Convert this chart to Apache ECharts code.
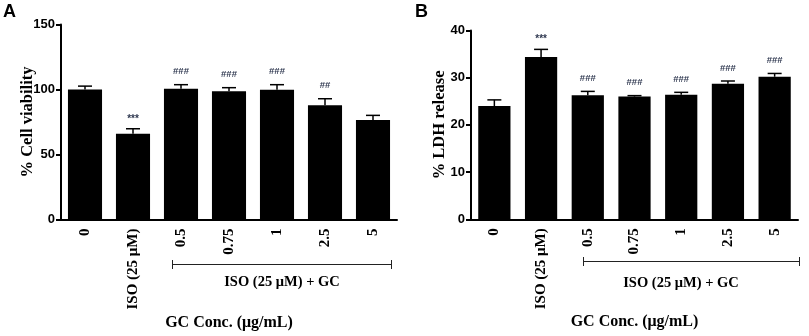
<!DOCTYPE html>
<html><head><meta charset="utf-8">
<script src="https://cdn.jsdelivr.net/npm/echarts@6/dist/echarts.min.js"></script>
<style>html,body{margin:0;padding:0;background:#fff}#c{width:809px;height:336px}</style>
</head><body><div id="c"></div>
<script>
const categories = ['0', 'ISO (25 μM)', '0.5', '0.75', '1', '2.5', '5'];
const viability = [100, 66, 100.6, 98.6, 99.8, 87.8, 76.5];
const viabilityErr = [2.6, 3.8, 3.1, 2.8, 3.9, 5.1, 3.6];
const viabilitySig = ['', '***', '###', '###', '###', '##', ''];
const ldh = [24.0, 34.4, 26.3, 26.0, 26.4, 28.7, 30.2];
const ldhErr = [1.3, 1.6, 0.8, 0.2, 0.5, 0.6, 0.7];
const ldhSig = ['', '***', '###', '###', '###', '###', '###'];
const yTicksA = {min: 0, max: 150, interval: 50};
const yTicksB = {min: 0, max: 40, interval: 10};

const serif = 'Liberation Serif';
const sans = 'Liberation Sans';

function xAxis(gi) {
  return {
    type: 'category', gridIndex: gi, data: categories, boundaryGap: true,
    axisLine: {lineStyle: {color: '#000', width: 2}},
    axisTick: {alignWithLabel: true, length: 5, lineStyle: {color: '#000', width: 2}},
    axisLabel: {rotate: 90, margin: 9, fontFamily: serif, fontWeight: 'bold', fontSize: 15, color: '#000'},
    name: 'GC Conc. (μg/mL)', nameLocation: 'middle', nameGap: 95, nameMoveOverlap: false,
    nameTextStyle: {fontFamily: serif, fontWeight: 'bold', fontSize: 16, color: '#000'}
  };
}
function yAxis(gi, t, name, gap) {
  return {
    type: 'value', gridIndex: gi, min: t.min, max: t.max, interval: t.interval,
    splitLine: {show: false},
    axisLine: {show: true, lineStyle: {color: '#000', width: 2}},
    axisTick: {show: true, length: 5, lineStyle: {color: '#000', width: 2}},
    axisLabel: {margin: 6, fontFamily: sans, fontWeight: 'bold', fontSize: 13, color: '#000'},
    name: name, nameLocation: 'middle', nameGap: gap, nameMoveOverlap: false,
    nameTextStyle: {fontFamily: serif, fontWeight: 'bold', fontSize: 16.5, color: '#000'}
  };
}
function errSeries(gi, means, errs) {
  return {
    type: 'custom', xAxisIndex: gi, yAxisIndex: gi, z: 1,
    data: means.map((m, i) => [i, m, m + errs[i]]),
    renderItem: function (params, api) {
      const b = api.coord([api.value(0), api.value(1)]);
      const t = api.coord([api.value(0), api.value(2)]);
      const hw = 7;
      return {type: 'group', children: [
        {type: 'line', shape: {x1: b[0], y1: b[1], x2: t[0], y2: t[1]}, style: {stroke: '#000', lineWidth: 1.5}},
        {type: 'line', shape: {x1: t[0] - hw, y1: t[1], x2: t[0] + hw, y2: t[1]}, style: {stroke: '#000', lineWidth: 1.5}}
      ]};
    }
  };
}
function sigSeries(gi, means, errs, sig) {
  return {
    type: 'custom', xAxisIndex: gi, yAxisIndex: gi, z: 3,
    data: means.map((m, i) => [i, m + errs[i], sig[i]]),
    renderItem: function (params, api) {
      const p = api.coord([api.value(0), api.value(1)]);
      const s = sig[params.dataIndex];
      const isStar = s.indexOf('*') >= 0;
      return {type: 'text', style: {
        text: s, x: p[0], y: p[1] - (isStar ? 10 : 13), align: 'center', verticalAlign: 'middle',
        font: (isStar ? 'bold 10px ' : 'bold 9.5px ') + sans, fill: '#2f3850'
      }};
    }
  };
}

const chart = echarts.init(document.getElementById('c'), null, {renderer: 'canvas'});
chart.setOption({
  animation: false,
  backgroundColor: '#fff',
  grid: [
    {left: 61, top: 24.5, width: 336, height: 195},
    {left: 471, top: 30.5, width: 327, height: 188.8}
  ],
  xAxis: [xAxis(0), xAxis(1)],
  yAxis: [yAxis(0, yTicksA, '% Cell viability', 25), yAxis(1, yTicksB, '% LDH release', 23)],
  series: [
    {type: 'bar', xAxisIndex: 0, yAxisIndex: 0, data: viability, barCategoryGap: '29%', itemStyle: {color: '#000'}, z: 2},
    errSeries(0, viability, viabilityErr),
    sigSeries(0, viability, viabilityErr, viabilitySig),
    {type: 'bar', xAxisIndex: 1, yAxisIndex: 1, data: ldh, barCategoryGap: '31%', itemStyle: {color: '#000'}, z: 2},
    errSeries(1, ldh, ldhErr),
    sigSeries(1, ldh, ldhErr, ldhSig)
  ],
  graphic: [
    {type: 'text', left: 3, top: 3, style: {text: 'A', font: 'bold 18px ' + sans, fill: '#000'}},
    {type: 'text', left: 415, top: 3, style: {text: 'B', font: 'bold 18px ' + sans, fill: '#000'}},
    {type: 'polyline', shape: {points: [[172.5, 260], [172.5, 269]]}, style: {stroke: '#222', lineWidth: 1}},
    {type: 'polyline', shape: {points: [[172, 264.5], [392, 264.5]]}, style: {stroke: '#222', lineWidth: 1}},
    {type: 'polyline', shape: {points: [[391.5, 260], [391.5, 269]]}, style: {stroke: '#222', lineWidth: 1}},
    {type: 'text', x: 282, y: 282, style: {text: 'ISO (25 μM) + GC', font: 'bold 14.5px ' + serif, fill: '#000', align: 'center', verticalAlign: 'middle'}},
    {type: 'polyline', shape: {points: [[583.5, 257], [583.5, 266]]}, style: {stroke: '#222', lineWidth: 1}},
    {type: 'polyline', shape: {points: [[583, 261.5], [800, 261.5]]}, style: {stroke: '#222', lineWidth: 1}},
    {type: 'polyline', shape: {points: [[799.5, 257], [799.5, 266]]}, style: {stroke: '#222', lineWidth: 1}},
    {type: 'text', x: 681, y: 283, style: {text: 'ISO (25 μM) + GC', font: 'bold 14.5px ' + serif, fill: '#000', align: 'center', verticalAlign: 'middle'}}
  ]
});
</script></body></html>
